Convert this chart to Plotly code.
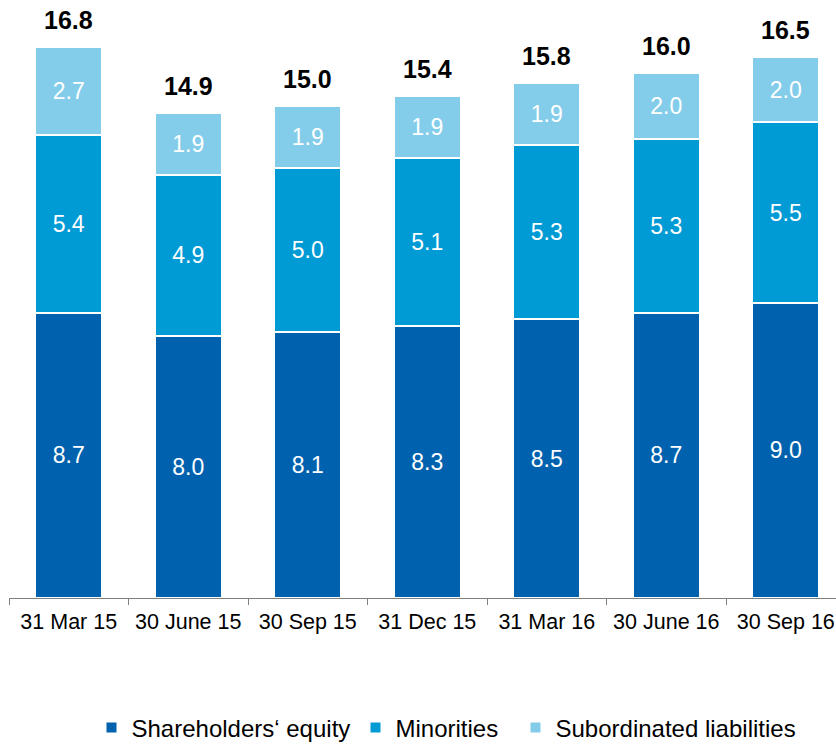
import plotly.graph_objects as go

# Capital base by reporting date (EUR bn)
dates = ["31 Mar 15", "30 June 15", "30 Sep 15", "31 Dec 15",
         "31 Mar 16", "30 June 16", "30 Sep 16"]
shareholders_equity = [8.7, 8.0, 8.1, 8.3, 8.5, 8.7, 9.0]
minorities = [5.4, 4.9, 5.0, 5.1, 5.3, 5.3, 5.5]
subordinated = [2.7, 1.9, 1.9, 1.9, 1.9, 2.0, 2.0]
totals = [16.8, 14.9, 15.0, 15.4, 15.8, 16.0, 16.5]

FONT = "Liberation Sans, Arial, sans-serif"
DARK = "#0062AE"
MID = "#009AD5"
LIGHT = "#84CDEA"

fig = go.Figure()

series = [
    ("Shareholders‘ equity", shareholders_equity, DARK, "legend"),
    ("Minorities", minorities, MID, "legend2"),
    ("Subordinated liabilities", subordinated, LIGHT, "legend3"),
]
for name, vals, color, leg in series:
    fig.add_trace(go.Bar(
        x=dates, y=vals, name=name,
        marker=dict(color=color, line=dict(color="white", width=2)),
        text=[f"{v:.1f}" for v in vals],
        textposition="inside", insidetextanchor="middle",
        textangle=0, constraintext="none",
        textfont=dict(family=FONT, size=23, color="white"),
        legend=leg, showlegend=True,
    ))

# Total labels above each stack
stack_tops = [a + b + c for a, b, c in zip(shareholders_equity, minorities, subordinated)]
for d, top, t in zip(dates, stack_tops, totals):
    fig.add_annotation(
        x=d, y=top, text=f"<b>{t:.1f}</b>", showarrow=False,
        yanchor="middle", yshift=27,
        font=dict(family=FONT, size=25, color="black"),
    )

legend_common = dict(
    orientation="h", xref="container", yref="container",
    xanchor="left", yanchor="middle", y=0.023,
    font=dict(family=FONT, size=24, color="black"),
    bgcolor="rgba(0,0,0,0)", borderwidth=0,
)

fig.update_layout(
    width=836, height=745,
    margin=dict(l=9, r=0, t=0, b=147),
    paper_bgcolor="white", plot_bgcolor="white",
    barmode="stack", bargap=0.44,
    showlegend=True,
    font=dict(family=FONT, color="black"),
    legend=dict(x=91.5 / 836, **legend_common),
    legend2=dict(x=355.5 / 836, **legend_common),
    legend3=dict(x=515.5 / 836, **legend_common),
    xaxis=dict(
        type="category", range=[-0.5, 6.42],
        showline=True, linecolor="#808080", linewidth=1,
        ticks="outside", tickson="boundaries", ticklen=6,
        tickcolor="#808080", tickwidth=1,
        ticklabelstandoff=4,
        showgrid=False, zeroline=False,
        tickfont=dict(family=FONT, size=21.5, color="black"),
    ),
    yaxis=dict(
        range=[0, 18.23], visible=False, showgrid=False,
    ),
)

fig.write_html("out.html")
